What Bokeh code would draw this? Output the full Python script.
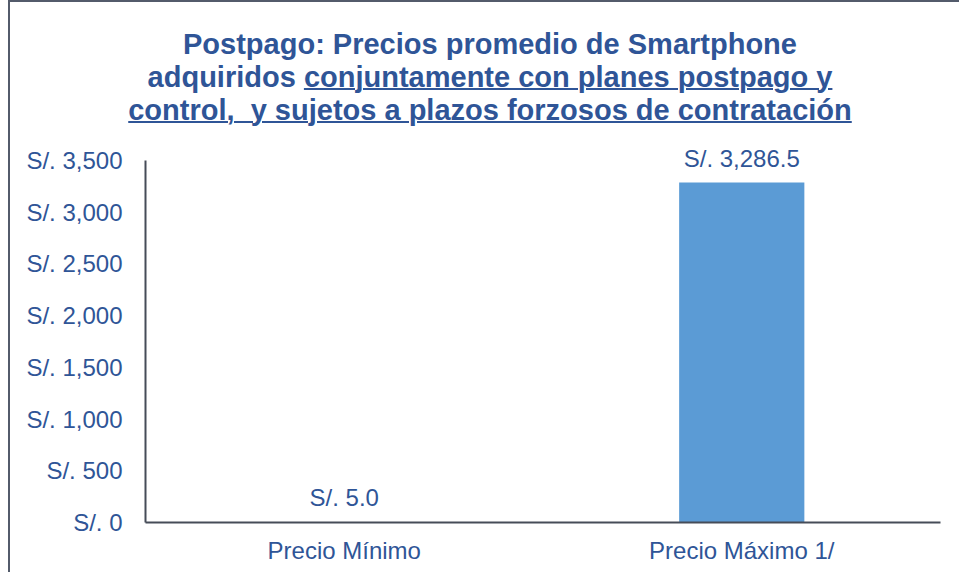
from bokeh.plotting import figure
from bokeh.layouts import column
from bokeh.models import Div, FixedTicker, ColumnDataSource, FactorRange, Range1d
from bokeh.core.properties import value
from bokeh.embed import file_html
from bokeh.resources import INLINE

categories = ["Precio Mínimo", "Precio Máximo 1/"]
values = [5.0, 3286.5]
value_labels = ["S/. 5.0", "S/. 3,286.5"]
tick_values = [0, 500, 1000, 1500, 2000, 2500, 3000, 3500]
tick_labels = ["S/. 0", "S/. 500", "S/. 1,000", "S/. 1,500", "S/. 2,000",
               "S/. 2,500", "S/. 3,000", "S/. 3,500"]

BLUE_TXT = "#2F5597"
BAR = "#5B9BD5"
AXIS = "#464c58"
FONT = "Liberation Sans"

title_html = (
    '<div style="width:941px;box-sizing:border-box;padding-left:9px;padding-top:21px;'
    'text-align:center;font-family:\'Liberation Sans\',Arial,sans-serif;font-weight:bold;'
    'font-size:29px;line-height:33px;color:' + BLUE_TXT + ';">'
    'Postpago: Precios promedio de Smartphone<br>'
    'adquiridos <u style="text-decoration-thickness:2px;">conjuntamente con planes postpago y</u><br>'
    '<u style="text-decoration-thickness:2px;">control,&nbsp; y sujetos a plazos forzosos de contratación</u>'
    '</div>'
)
title = Div(text=title_html, width=941, height=128)

src = ColumnDataSource(dict(cat=categories, val=values, label=value_labels))

# extra headroom above the axis top so the value label is not clipped
Y_AXIS_TOP = 3500
Y_VIEW_TOP = 3693

p = figure(x_range=FactorRange(*categories), y_range=Range1d(0, Y_VIEW_TOP),
           width=941, height=432, output_backend="svg", toolbar_location=None,
           min_border_left=135, min_border_right=11, min_border_top=0,
           min_border_bottom=50)
p.vbar(x="cat", top="val", width=0.315, source=src, fill_color=BAR, line_color=None)
p.text(x="cat", y="val", text="label", source=src, text_align="center",
       text_baseline="alphabetic", y_offset=-24, text_font=value(FONT),
       text_font_size="24px", text_color=BLUE_TXT)

p.outline_line_color = None
p.xgrid.grid_line_color = None
p.ygrid.grid_line_color = None
p.background_fill_color = "white"
p.border_fill_color = "white"

p.yaxis.ticker = FixedTicker(ticks=tick_values)
p.yaxis.bounds = (0, Y_AXIS_TOP)
p.yaxis.major_label_overrides = {t: l for t, l in zip(tick_values, tick_labels)}
for ax in (p.xaxis[0], p.yaxis[0]):
    ax.axis_line_color = AXIS
    ax.axis_line_width = 2
    ax.major_tick_line_color = None
    ax.minor_tick_line_color = None
    ax.major_tick_out = 0
    ax.major_tick_in = 0
    ax.minor_tick_out = 0
    ax.minor_tick_in = 0
    ax.major_label_text_font = FONT
    ax.major_label_text_font_size = "24px"
    ax.major_label_text_color = BLUE_TXT
p.yaxis.major_label_standoff = 23
p.xaxis.major_label_standoff = 14

layout = column(title, p, spacing=0,
                styles={"border-left": "2px solid #535b6b", "border-top": "2px solid #535b6b",
                        "box-sizing": "content-box", "margin-left": "8px"})

open("out.html", "w").write(file_html(layout, INLINE))
